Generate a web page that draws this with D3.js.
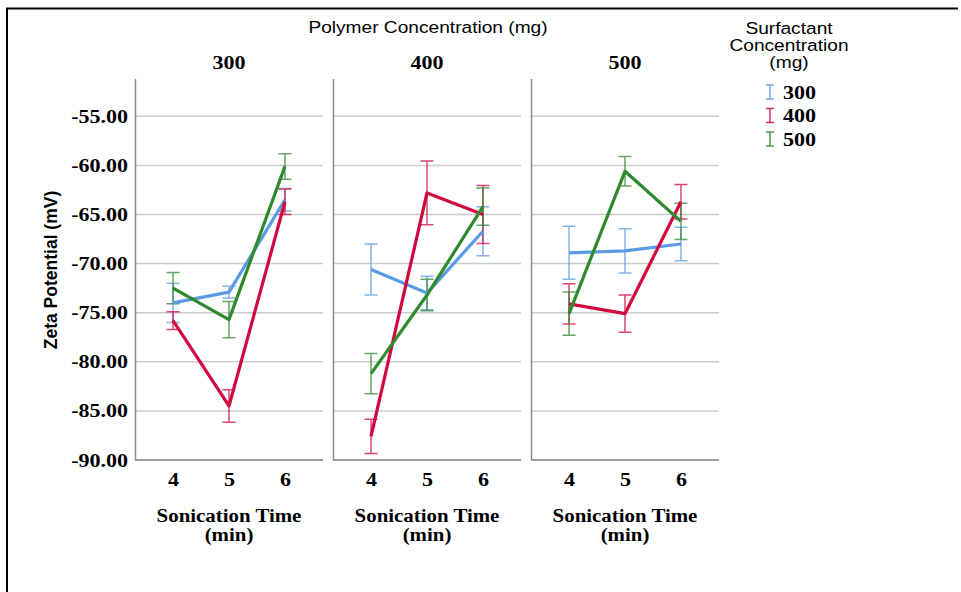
<!DOCTYPE html>
<html>
<head>
<meta charset="utf-8">
<script src="https://cdn.jsdelivr.net/npm/d3@7"></script>
<style>
  body { margin: 0; background: #fff; }
  svg { display: block; }
</style>
</head>
<body>
<div id="chart"></div>
<script>
// data
const times = [4, 5, 6];
const polymers = [300, 400, 500];
const surfactants = [300, 400, 500];
const yTicks = [-90, -85, -80, -75, -70, -65, -60, -55];

// means / error half-widths, rows = polymer 300,400,500, cols = time 4,5,6
const mean300 = [[-74.0, -72.9, -63.5], [-70.6, -73.0, -66.7], [-68.9, -68.7, -68.0]];
const err300  = [[2.0, 0.6, 1.15], [2.6, 1.7, 2.5], [2.7, 2.25, 1.7]];
const mean400 = [[-75.8, -84.5, -63.7], [-87.6, -62.8, -65.0], [-74.1, -75.1, -63.7]];
const err400  = [[0.9, 1.65, 1.3], [1.75, 3.25, 2.95], [2.05, 1.9, 1.75]];
const mean500 = [[-72.5, -75.7, -60.1], [-81.2, -73.2, -64.2], [-75.1, -60.6, -65.7]];
const err500  = [[1.6, 1.85, 1.3], [2.05, 1.6, 1.9], [2.2, 1.5, 1.85]];

const means = [mean300, mean400, mean500];
const errs = [err300, err400, err500];

// formatting constants
const width = 961;
const height = 592;
const colors = d3.scaleOrdinal().domain(surfactants).range(["#5b9be6", "#d2093f", "#2e8a2e"]);
const serif = "'Liberation Serif', 'Times New Roman', serif";
const sans = "'Liberation Sans', Arial, sans-serif";
const sx = 1.16; // reference text is a bit wide

const svg = d3.select("#chart")
    .append("svg")
        .attr("width", width)
        .attr("height", height);

// outer frame (left + top)
svg.append("path")
    .attr("d", "M7,592 V8.5 H958")
    .attr("fill", "none")
    .attr("stroke", "#000")
    .attr("stroke-width", 2);

// scales
const panel = d3.scaleBand()
    .domain(polymers)
    .range([135, 719])
    .paddingInner(0.0505);

const x = d3.scalePoint()
    .domain(times)
    .range([0, panel.bandwidth()])
    .padding(0.68);

const y = d3.scaleLinear()
    .domain([-90, -51.2])
    .range([460, 79]);

// wide text helper: group at (cx, 0) stretched, lines at their own y
function wideText(parent, cx, lines, ys, family, size, weight) {
    const t = parent.append("g")
        .attr("transform", `translate(${cx}, 0) scale(${sx}, 1)`)
        .append("text")
            .attr("text-anchor", "middle")
            .attr("font-family", family)
            .attr("font-size", size)
            .attr("font-weight", weight || "normal");
    lines.forEach((line, i) => t.append("tspan").attr("x", 0).attr("y", ys[i]).text(line));
    return t;
}

// titles
wideText(svg, 428, ["Polymer Concentration (mg)"], [33], sans, 16.5);

svg.append("text")
    .attr("transform", "translate(57, 270) rotate(-90)")
    .attr("text-anchor", "middle")
    .attr("font-family", sans).attr("font-size", 17.5).attr("font-weight", "bold")
    .text("Zeta Potential (mV)");

// y axis labels
svg.append("g")
    .attr("transform", `translate(${panel(polymers[0])}, 0)`)
    .call(d3.axisLeft(y).tickValues(yTicks).tickSize(0).tickPadding(6).tickFormat(d => d.toFixed(2)))
    .call(g => g.select(".domain").remove())
    .call(g => g.selectAll("text")
        .attr("transform", `scale(${sx}, 1)`)
        .attr("font-family", serif).attr("font-size", 19).attr("font-weight", "bold").attr("fill", "#000"));

// panels
polymers.forEach((p, pi) => {
    const g = svg.append("g").attr("transform", `translate(${panel(p)}, 0)`);
    const w = panel.bandwidth();

    // grid
    g.append("g")
        .selectAll("line")
        .data(yTicks)
        .join("line")
            .attr("x1", 0).attr("x2", w)
            .attr("y1", d => y(d)).attr("y2", d => y(d))
            .attr("stroke", "#cccccc").attr("stroke-width", 1.5);

    // axes lines
    g.append("path")
        .attr("d", `M0.5,${y.range()[1]} V${y(-90)} H${w}`)
        .attr("fill", "none").attr("stroke", "#8c8c8c").attr("stroke-width", 1.5);

    // x tick labels
    g.append("g")
        .attr("transform", `translate(0, ${y(-90)})`)
        .call(d3.axisBottom(x).tickSize(0).tickPadding(13))
        .call(a => a.select(".domain").remove())
        .call(a => a.selectAll("text")
            .attr("transform", `scale(${sx}, 1)`)
            .attr("font-family", serif).attr("font-size", 19).attr("font-weight", "bold").attr("fill", "#000"));

    // panel title
    wideText(g, w / 2, [String(p)], [69], serif, 19, "bold");

    // x axis title
    wideText(g, w / 2, ["Sonication Time", "(min)"], [522, 541], serif, 18, "bold");

    // error bars
    surfactants.forEach((s, si) => {
        const pts = times.map((tm, ti) => ({t: tm, m: means[si][pi][ti], e: errs[si][pi][ti]}));
        const eb = g.append("g")
            .attr("stroke", colors(s)).attr("stroke-width", 1.5).attr("opacity", 0.75).attr("fill", "none");
        eb.selectAll("path")
            .data(pts)
            .join("path")
                .attr("d", d => {
                    const cx = x(d.t), y1 = y(d.m + d.e), y2 = y(d.m - d.e);
                    return `M${cx - 6.5},${y1} H${cx + 6.5} M${cx},${y1} V${y2} M${cx - 6.5},${y2} H${cx + 6.5}`;
                });
    });

    // mean lines
    surfactants.forEach((s, si) => {
        const pts = times.map((tm, ti) => ({t: tm, m: means[si][pi][ti]}));
        g.append("path")
            .datum(pts)
            .attr("fill", "none")
            .attr("stroke", colors(s))
            .attr("stroke-width", 3.2)
            .attr("stroke-linejoin", "round")
            .attr("d", d3.line().x(d => x(d.t)).y(d => y(d.m)));
    });
});

// legend
wideText(svg, 789, ["Surfactant", "Concentration", "(mg)"], [34, 51, 68], sans, 16.5);

surfactants.forEach((s, i) => {
    const cy = 92 + i * 23.5;
    svg.append("path")
        .attr("d", `M766,${cy - 7} H774 M770,${cy - 7} V${cy + 7} M766,${cy + 7} H774`)
        .attr("stroke", colors(s)).attr("stroke-width", 1.5).attr("opacity", 0.85).attr("fill", "none");
    svg.append("g")
        .attr("transform", `translate(783, ${cy + 6.5}) scale(${sx}, 1)`)
        .append("text")
            .attr("font-family", serif).attr("font-size", 19).attr("font-weight", "bold")
            .text(s);
});
</script>
</body>
</html>
